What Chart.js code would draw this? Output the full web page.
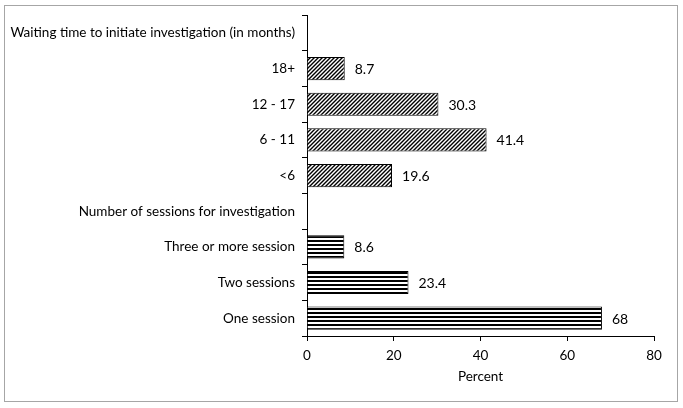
<!DOCTYPE html>
<html>
<head>
<meta charset="utf-8">
<script src="https://cdn.jsdelivr.net/npm/chart.js@4.4.1/dist/chart.umd.min.js"></script>
<style>
    html, body { margin: 0; padding: 0; background: #fff; }
    #wrap { position: relative; width: 683px; height: 408px; }
    #frame {
        position: absolute; left: 4px; top: 5px; width: 672px; height: 395px;
        border: 1px solid #a6a6a6; pointer-events: none;
    }
</style>
</head>
<body>
<div id="wrap">
    <canvas id="chart" width="683" height="408"></canvas>
    <div id="frame"></div>
</div>
<script>
const categories = [
    "Waiting time to initiate investigation (in months)",
    "18+",
    "12 - 17",
    "6 - 11",
    "<6",
    "Number of sessions for investigation",
    "Three or more session",
    "Two sessions",
    "One session"
];
const percentValues = [null, 8.7, 30.3, 41.4, 19.6, null, 8.6, 23.4, 68];
// which pattern each row uses: "diag" for waiting time, "horiz" for sessions
const rowGroups = [null, "diag", "diag", "diag", "diag", null, "horiz", "horiz", "horiz"];
const xTicks = [0, 20, 40, 60, 80];

const fontFamily = "Lato, 'Open Sans', sans-serif";

function makeDiagPattern() {
    const c = document.createElement("canvas");
    c.width = 4; c.height = 4;
    const g = c.getContext("2d");
    g.fillStyle = "#fff";
    g.fillRect(0, 0, 4, 4);
    g.strokeStyle = "#000";
    g.lineWidth = 1.4;
    g.beginPath();
    g.moveTo(-1, 5); g.lineTo(5, -1);
    g.moveTo(-1, 1); g.lineTo(1, -1);
    g.moveTo(3, 5); g.lineTo(5, 3);
    g.stroke();
    return document.getElementById("chart").getContext("2d").createPattern(c, "repeat");
}

function makeHorizPattern() {
    const c = document.createElement("canvas");
    c.width = 4; c.height = 4;
    const g = c.getContext("2d");
    g.fillStyle = "#fff";
    g.fillRect(0, 0, 4, 4);
    g.fillStyle = "#000";
    g.fillRect(0, 0, 4, 2);
    return document.getElementById("chart").getContext("2d").createPattern(c, "repeat");
}

const patterns = { diag: makeDiagPattern(), horiz: makeHorizPattern() };

const valueLabels = {
    id: "valueLabels",
    afterDatasetsDraw(chart) {
        const ctx = chart.ctx;
        const meta = chart.getDatasetMeta(0);
        ctx.save();
        ctx.font = "14px " + fontFamily;
        ctx.fillStyle = "#000";
        ctx.textAlign = "left";
        ctx.textBaseline = "middle";
        meta.data.forEach((bar, i) => {
            const v = percentValues[i];
            if (v === null) return;
            ctx.fillText(String(v), bar.x + 10, bar.y + 1);
        });
        ctx.restore();
    }
};

new Chart(document.getElementById("chart"), {
    type: "bar",
    data: {
        labels: categories,
        datasets: [{
            data: percentValues,
            backgroundColor: rowGroups.map(g => g ? patterns[g] : "transparent"),
            borderColor: "#000",
            borderWidth: 1,
            categoryPercentage: 1,
            barPercentage: 0.65
        }]
    },
    options: {
        indexAxis: "y",
        responsive: false,
        animation: false,
        layout: { padding: { top: 12, right: 29, left: 0, bottom: 19 } },
        plugins: { legend: { display: false }, tooltip: { enabled: false } },
        scales: {
            x: {
                min: 0,
                max: 80,
                afterBuildTicks: (axis) => { axis.ticks = xTicks.map(v => ({ value: v })); },
                grid: { drawOnChartArea: false, color: "#000", tickLength: 5 },
                border: { color: "#000", width: 1 },
                ticks: { color: "#000", font: { family: fontFamily, size: 13.5 }, padding: 7 },
                title: { display: true, text: "Percent", color: "#000", font: { family: fontFamily, size: 13.5 }, padding: { top: 4, bottom: 4 } },
                afterFit: (axis) => { axis.height = 53; }
            },
            y: {
                grid: { drawOnChartArea: false, color: "#000", tickLength: 5, offset: true },
                border: { color: "#000", width: 1 },
                ticks: { color: "#000", font: { family: fontFamily, size: 13.5 }, padding: 7 },
                afterFit: (axis) => { axis.width = 307; }
            }
        }
    },
    plugins: [valueLabels]
});
</script>
</body>
</html>
